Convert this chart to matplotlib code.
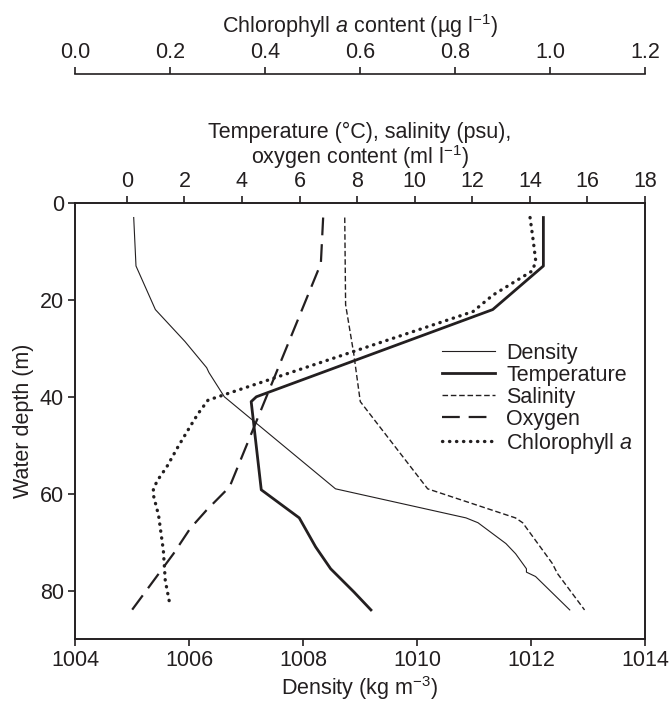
import numpy as np
import matplotlib
matplotlib.use("Agg")
import matplotlib.pyplot as plt

plt.rcParams['font.family'] = ['Liberation Sans', 'DejaVu Sans']
plt.rcParams['mathtext.fontset'] = 'custom'
plt.rcParams['mathtext.rm'] = 'Liberation Sans'
plt.rcParams['mathtext.it'] = 'Liberation Sans:italic'

INK = '#231f20'
FS = 15.5

# ---- profiles (depth in m) ----
dens_z = [3, 13, 22, 28.6, 34, 35, 40, 59, 65, 66, 70.3, 72.4, 75.5, 76.2, 77.1, 84]
dens_v = [1005.03, 1005.07, 1005.41, 1005.93, 1006.31, 1006.35, 1006.62, 1008.57,
          1010.86, 1011.07, 1011.56, 1011.73, 1011.92, 1011.92, 1012.08, 1012.68]

temp_z = [3, 13, 22, 40, 41, 59.2, 65, 71, 75.5, 80.3, 84]
temp_v = [14.47, 14.47, 12.71, 4.5, 4.32, 4.67, 5.99, 6.56, 7.08, 7.89, 8.48]

sal_z = [3, 21, 31, 41, 59, 65, 66, 74.4, 76.5, 84]
sal_v = [7.57, 7.6, 7.88, 8.11, 10.45, 13.5, 13.75, 14.78, 14.96, 15.9]

oxy_z = [3, 12.5, 58.6, 63.4, 67.2, 72.4, 84]
oxy_v = [6.82, 6.74, 3.57, 2.77, 2.2, 1.62, 0.18]

chl_z = [3, 8, 12, 14, 19, 22.4, 40.7, 43.5, 46.2, 50.3, 54.5, 57.2, 59, 60.3,
         64.5, 71.7, 77.9, 83]
chl_v = [0.958, 0.965, 0.97, 0.963, 0.88, 0.838, 0.28, 0.259, 0.242, 0.217, 0.193,
         0.174, 0.165, 0.165, 0.176, 0.186, 0.19, 0.2]

fig = plt.figure(figsize=(6.7, 7.04), dpi=100)
ax = fig.add_axes([75/670, 1-639/704, 570/670, 436/704])

ax.plot(dens_v, dens_z, color=INK, lw=0.8, label='Density')
ax.set_xlim(1004, 1014)
ax.set_ylim(90, 0)
ax.set_xticks(np.arange(1004, 1015, 2))
ax.set_yticks([0, 20, 40, 60, 80])
ax.set_xlabel('Density (kg m$^{-3}$)', fontsize=FS, color=INK, labelpad=2)
ax.set_ylabel('Water depth (m)', fontsize=FS, color=INK, labelpad=4)

# temperature / salinity / oxygen axis
ax2 = ax.twiny()
ax2.plot(temp_v, temp_z, color=INK, lw=2.0, label='Temperature')
ax2.plot(sal_v, sal_z, color=INK, lw=1.0, dashes=(4, 2), label='Salinity')
ax2.plot(oxy_v, oxy_z, color=INK, lw=1.6, dashes=(8, 4), label='Oxygen')
ax2.set_xlim(-1.8, 18)
ax2.set_xticks(np.arange(0, 19, 2))
ax2.set_xlabel('Temperature (°C), salinity (psu),\noxygen content (ml l$^{-1}$)',
               fontsize=FS, color=INK, labelpad=5, linespacing=1.0)

# chlorophyll axis, further up
ax3 = ax.twiny()
ax3.plot(chl_v, chl_z, color=INK, lw=2.4, linestyle=(0, (0.1, 2.0)),
         dash_capstyle='round', label='Chlorophyll $\\it{a}$')
ax3.set_xlim(0, 1.2)
ax3.set_xticks(np.arange(0, 1.21, 0.2))
ax3.xaxis.set_major_formatter(matplotlib.ticker.FormatStrFormatter('%.1f'))
ax3.spines['top'].set_position(('outward', 93))
for s in ['left', 'right', 'bottom']:
    ax3.spines[s].set_visible(False)
ax3.set_xlabel('Chlorophyll $\\it{a}$ content (µg l$^{-1}$)', fontsize=FS,
               color=INK, labelpad=6)
ax3.set_ylim(90, 0)
ax2.set_ylim(90, 0)

for a in (ax, ax2, ax3):
    for s in a.spines.values():
        s.set_color(INK)
        s.set_linewidth(1.2)
    a.tick_params(labelsize=FS, colors=INK, length=5, width=1.2, pad=3)

h1, l1 = ax.get_legend_handles_labels()
h2, l2 = ax2.get_legend_handles_labels()
h3, l3 = ax3.get_legend_handles_labels()
leg = ax.legend(h1 + h2 + h3, l1 + l2 + l3, loc='upper left',
                bbox_to_anchor=(0.643, 0.68), frameon=False, fontsize=FS,
                handlelength=2.5, handletextpad=0.5, labelspacing=0.05,
                borderpad=0, borderaxespad=0)
for t in leg.get_texts():
    t.set_color(INK)
ax.set_zorder(5)
ax.patch.set_visible(False)

fig.savefig('out.png', dpi=100)
